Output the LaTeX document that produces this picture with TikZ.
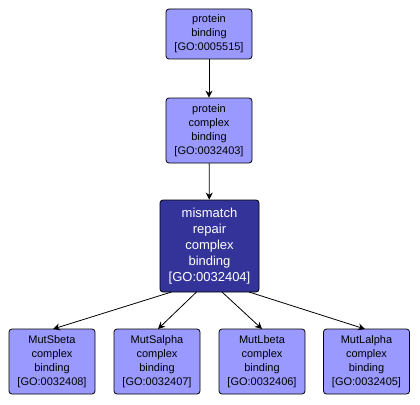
\documentclass[tikz,border=0pt]{standalone}
\usepackage{fontspec}
\setmainfont{Liberation Sans}
\usetikzlibrary{arrows.meta}
\definecolor{lightnode}{HTML}{9999FF}
\definecolor{darknode}{HTML}{333399}
\begin{document}
\begin{tikzpicture}[x=1pt,y=-1pt,
  gobox/.style={draw=black, line width=0.8pt, rounded corners=3pt, fill=lightnode,
    align=center, font=\fontsize{11}{14}\selectfont, inner sep=0pt, anchor=center},
  godark/.style={gobox, fill=darknode, text=white, font=\fontsize{13}{16}\selectfont},
  goarrow/.style={-{Stealth[length=7pt,width=7pt]}, line width=0.8pt}]
\useasboundingbox (0,0) rectangle (420,404);
\node[gobox, minimum width=86pt, minimum height=50pt] (n1) at (209,34) {protein\\binding\\{[}GO:0005515{]}};
\node[gobox, minimum width=86pt, minimum height=65pt] (n2) at (209,130.5) {protein\\complex\\binding\\{[}GO:0032403{]}};
\node[godark, minimum width=99pt, minimum height=92pt] (n3) at (209.5,246) {mismatch\\repair\\complex\\binding\\{[}GO:0032404{]}};
\node[gobox, minimum width=86pt, minimum height=65pt] (a) at (52,361.5) {MutSbeta\\complex\\binding\\{[}GO:0032408{]}};
\node[gobox, minimum width=86pt, minimum height=65pt] (b) at (157,361.5) {MutSalpha\\complex\\binding\\{[}GO:0032407{]}};
\node[gobox, minimum width=86pt, minimum height=65pt] (c) at (262,361.5) {MutLbeta\\complex\\binding\\{[}GO:0032406{]}};
\node[gobox, minimum width=86pt, minimum height=65pt] (d) at (366.5,361.5) {MutLalpha\\complex\\binding\\{[}GO:0032405{]}};
\coordinate (s1) at (171.5,292);
\coordinate (s2) at (196.5,292);
\coordinate (s3) at (222,292);
\coordinate (s4) at (249,292);
\coordinate (e1) at (53,329);
\coordinate (e2) at (158,329);
\coordinate (e3) at (262,329);
\coordinate (e4) at (365,329);
\draw[goarrow] (n1) -- (n2);
\draw[goarrow] (n2) -- (n3);
\draw[goarrow] (s1) -- (e1);
\draw[goarrow] (s2) -- (e2);
\draw[goarrow] (s3) -- (e3);
\draw[goarrow] (s4) -- (e4);
\end{tikzpicture}
\end{document}
